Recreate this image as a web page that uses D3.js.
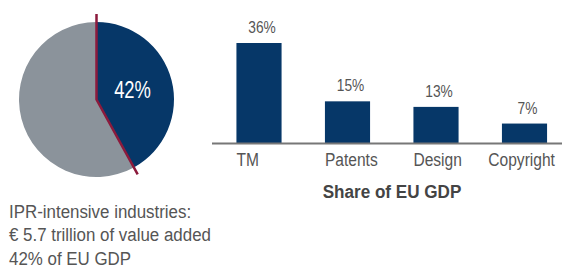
<!DOCTYPE html>
<html>
<head>
<meta charset="utf-8">
<script src="https://cdn.jsdelivr.net/npm/d3@7"></script>
<style>
  body { margin: 0; background: #fff; }
  svg { display: block; }
  text { font-family: "Liberation Sans", Arial, sans-serif; }
</style>
</head>
<body>
<svg width="562" height="276"></svg>
<script>
// pie: share of IPR-intensive industries in EU GDP
const pieNames = ['IPR-intensive', 'Other'];
const pieValues = [42, 58];
const pieLabel = '42%';

// bars: share of EU GDP by right type
const categories = ['TM', 'Patents', 'Design', 'Copyright'];
const shares = [36, 15, 13, 7];
const axisTitle = 'Share of EU GDP';

const caption = [
    'IPR-intensive industries:',
    '\u20AC 5.7 trillion of value added',
    '42% of EU GDP'
];

const W = 562, H = 276;
const navy = '#063768', grey = '#8b939b', red = '#8c1a3c', textCol = '#555';

const svg = d3.select('svg');

// no condensed font installed, so squeeze the text horizontally
function place(sel, x, y, sx) {
    sel.attr('x', 0).attr('y', 0)
       .attr('transform', function(d, i) {
           const px = typeof x === 'function' ? x.call(this, d, i) : x;
           const py = typeof y === 'function' ? y.call(this, d, i) : y;
           return `translate(${px},${py}) scale(${sx},1)`;
       });
}

///////////////////////////// pie /////////////////////////////
const cx = 96.5, cy = 99.5, r = 77.5;
const pie = d3.pie().sort(null).value(d => d)(pieValues);
const arc = d3.arc().innerRadius(0).outerRadius(r);

const pieG = svg.append('g').attr('transform', `translate(${cx},${cy})`);
pieG.selectAll('path')
    .data(pie)
    .enter().append('path')
    .attr('d', arc)
    .attr('fill', (d, i) => i === 0 ? navy : grey);

// red divider along the edges of the first slice, a bit past the rim
const rl = r + 8;
const a0 = pie[0].startAngle, a1 = pie[0].endAngle;
pieG.append('path')
    .attr('d', `M${rl * Math.sin(a0)},${-rl * Math.cos(a0)} L0,0 L${rl * Math.sin(a1)},${-rl * Math.cos(a1)}`)
    .attr('fill', 'none')
    .attr('stroke', red)
    .attr('stroke-width', 2.5);

const lab = d3.arc().innerRadius(r * 0.48).outerRadius(r * 0.48);
const pieText = pieG.append('text')
    .attr('text-anchor', 'middle')
    .attr('fill', '#fff')
    .style('font-size', '23px')
    .text(pieLabel);
place(pieText, lab.centroid(pie[0])[0], lab.centroid(pie[0])[1] + 8, 0.8);

// caption under the pie
const cap = svg.append('g').selectAll('text')
    .data(caption)
    .enter().append('text')
    .attr('fill', textCol)
    .style('font-size', '19px')
    .text(d => d);
place(cap, 9, (d, i) => 218 + i * 23.3, 0.89);

///////////////////////////// bars /////////////////////////////
const xScale = d3.scaleBand()
    .domain(categories)
    .range([214.75, 568.75])
    .paddingInner(0.49)
    .paddingOuter(0.245);
const yScale = d3.scaleLinear()
    .domain([0, 36])
    .range([143, 43]);

svg.append('g').selectAll('rect')
    .data(shares)
    .enter().append('rect')
    .attr('x', (d, i) => xScale(categories[i]))
    .attr('y', d => yScale(d))
    .attr('width', xScale.bandwidth())
    .attr('height', d => yScale(0) - yScale(d))
    .attr('fill', navy);

// value labels
const vals = svg.append('g').selectAll('text')
    .data(shares)
    .enter().append('text')
    .attr('text-anchor', 'middle')
    .attr('fill', textCol)
    .style('font-size', '16px')
    .text(d => d + '%');
place(vals, (d, i) => xScale(categories[i]) + xScale.bandwidth() / 2 + 3, d => yScale(d) - 10, 0.86);

// baseline
svg.append('line')
    .attr('x1', 212).attr('x2', W)
    .attr('y1', yScale(0) + 0.5).attr('y2', yScale(0) + 0.5)
    .attr('stroke', '#777')
    .attr('stroke-width', 2);

// category labels: start at the bar's left edge, pushed left if they would run off the page
const catSx = 0.82;
const cats = svg.append('g').selectAll('text')
    .data(categories)
    .enter().append('text')
    .attr('fill', textCol)
    .style('font-size', '19px')
    .text(d => d);
place(cats, function(d) {
    const w = this.getComputedTextLength() * catSx;
    return Math.min(xScale(d), W - 7 - w);
}, 166, catSx);

const title = svg.append('text')
    .attr('text-anchor', 'middle')
    .attr('fill', '#444')
    .style('font-size', '19px')
    .style('font-weight', 'bold')
    .text(axisTitle);
place(title, 392, 198, 0.9);
</script>
</body>
</html>
